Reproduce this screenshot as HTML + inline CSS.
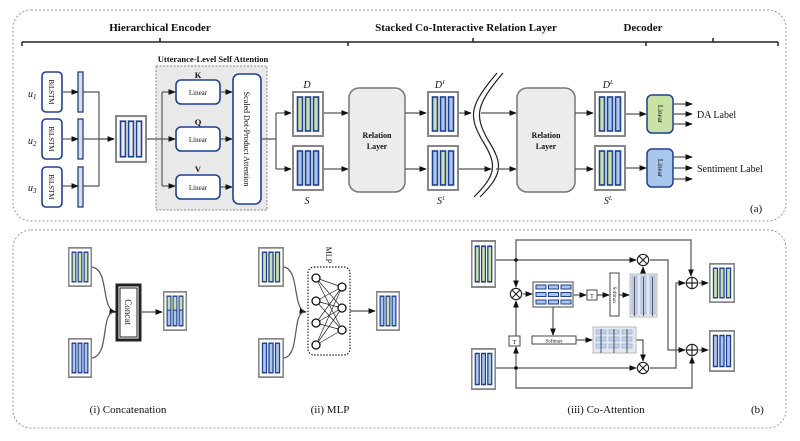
<!DOCTYPE html>
<html><head><meta charset="utf-8"><style>
html,body{margin:0;padding:0;background:#fff}
svg{display:block}
text{font-family:"Liberation Serif",serif;fill:#111}
.b{font-weight:bold}
.ln{stroke:#555;stroke-width:1.2;fill:none}
.bl{fill:#fff;stroke:#1f3f8f;stroke-width:1.6}
</style></head><body>
<svg width="800" height="441" viewBox="0 0 800 441" xmlns="http://www.w3.org/2000/svg">
<defs>
<marker id="a" viewBox="0 0 10 10" refX="9" refY="5" markerWidth="6" markerHeight="6" orient="auto"><path d="M0,1 L10,5 L0,9z" fill="#111"/></marker>
<symbol id="sGGG" viewBox="0 0 32 46" preserveAspectRatio="none"><rect x="1" y="1" width="30" height="44" fill="#fff" stroke="#888" stroke-width="2"/><g stroke="#1f3f8f" stroke-width="1.6"><rect x="5.5" y="6" width="5" height="34" fill="#c9e2a6"/><rect x="13.5" y="6" width="5" height="34" fill="#c9e2a6"/><rect x="21.5" y="6" width="5" height="34" fill="#c9e2a6"/></g></symbol>
<symbol id="sBBB" viewBox="0 0 32 46" preserveAspectRatio="none"><rect x="1" y="1" width="30" height="44" fill="#fff" stroke="#888" stroke-width="2"/><g stroke="#1f3f8f" stroke-width="1.6"><rect x="5.5" y="6" width="5" height="34" fill="#a9c6ec"/><rect x="13.5" y="6" width="5" height="34" fill="#a9c6ec"/><rect x="21.5" y="6" width="5" height="34" fill="#a9c6ec"/></g></symbol>
<symbol id="sGBG" viewBox="0 0 32 46" preserveAspectRatio="none"><rect x="1" y="1" width="30" height="44" fill="#fff" stroke="#888" stroke-width="2"/><g stroke="#1f3f8f" stroke-width="1.6"><rect x="5.5" y="6" width="5" height="34" fill="#c9e2a6"/><rect x="13.5" y="6" width="5" height="34" fill="#a9c6ec"/><rect x="21.5" y="6" width="5" height="34" fill="#a9c6ec"/></g></symbol>
<symbol id="sBGB" viewBox="0 0 32 46" preserveAspectRatio="none"><rect x="1" y="1" width="30" height="44" fill="#fff" stroke="#888" stroke-width="2"/><g stroke="#1f3f8f" stroke-width="1.6"><rect x="5.5" y="6" width="5" height="34" fill="#a9c6ec"/><rect x="13.5" y="6" width="5" height="34" fill="#c9e2a6"/><rect x="21.5" y="6" width="5" height="34" fill="#a9c6ec"/></g></symbol>
<symbol id="sGGB" viewBox="0 0 32 46" preserveAspectRatio="none"><rect x="1" y="1" width="30" height="44" fill="#fff" stroke="#888" stroke-width="2"/><g stroke="#1f3f8f" stroke-width="1.6"><rect x="5.5" y="6" width="5" height="34" fill="#c9e2a6"/><rect x="13.5" y="6" width="5" height="34" fill="#c9e2a6"/><rect x="21.5" y="6" width="5" height="34" fill="#a9c6ec"/></g></symbol>
<symbol id="sWWW" viewBox="0 0 32 46" preserveAspectRatio="none"><rect x="1" y="1" width="30" height="44" fill="#fff" stroke="#888" stroke-width="2"/><g stroke="#1f3f8f" stroke-width="1.6"><rect x="5.5" y="6" width="5" height="34" fill="#e6e9ef"/><rect x="13.5" y="6" width="5" height="34" fill="#e6e9ef"/><rect x="21.5" y="6" width="5" height="34" fill="#e6e9ef"/></g></symbol>
<symbol id="sHALF" viewBox="0 0 32 46" preserveAspectRatio="none"><rect x="1" y="1" width="30" height="44" fill="#fff" stroke="#888" stroke-width="2"/><g stroke="#1f3f8f" stroke-width="1.6"><rect x="5.5" y="6" width="5" height="34" fill="#a9c6ec"/><rect x="13.5" y="6" width="5" height="34" fill="#a9c6ec"/><rect x="21.5" y="6" width="5" height="34" fill="#a9c6ec"/></g><g fill="#c9e2a6"><rect x="6.3" y="6.8" width="3.4" height="15"/><rect x="14.3" y="6.8" width="3.4" height="15"/><rect x="22.3" y="6.8" width="3.4" height="15"/></g><g stroke="#1f3f8f" stroke-width="1.2"><line x1="5.5" y1="22" x2="10.5" y2="22"/><line x1="13.5" y1="22" x2="18.5" y2="22"/><line x1="21.5" y1="22" x2="26.5" y2="22"/></g></symbol>
<symbol id="otimes" viewBox="-8 -8 16 16"><circle r="6.5" fill="#fff" stroke="#222" stroke-width="1.3"/><path d="M-4.6,-4.6L4.6,4.6M4.6,-4.6L-4.6,4.6" stroke="#222" stroke-width="1.3"/></symbol>
<symbol id="oplus" viewBox="-8 -8 16 16"><circle r="6.5" fill="#fff" stroke="#222" stroke-width="1.3"/><path d="M-6.5,0H6.5M0,-6.5V6.5" stroke="#222" stroke-width="1.3"/></symbol>
</defs>

<!-- panels -->
<rect x="13" y="10" width="773" height="211" rx="18" fill="none" stroke="#999" stroke-width="1" stroke-dasharray="2,2"/>
<rect x="13" y="230" width="773" height="198" rx="18" fill="none" stroke="#999" stroke-width="1" stroke-dasharray="2,2"/>

<!-- headers -->
<text x="160" y="31" font-size="11" class="b" text-anchor="middle">Hierarchical Encoder</text>
<text x="466" y="31" font-size="11" class="b" text-anchor="middle">Stacked Co-Interactive Relation Layer</text>
<text x="643" y="31" font-size="11" class="b" text-anchor="middle">Decoder</text>
<path d="M22,42H778M22,42V46M160,42V38M348,42V46M473,42V38M646,42V46M713,42V38M778,42V46" stroke="#222" stroke-width="1.5" fill="none"/>

<!-- BiLSTMs -->
<g>
<rect x="42" y="72" width="20" height="40" rx="4" class="bl"/>
<rect x="42" y="119" width="20" height="40" rx="4" class="bl"/>
<rect x="42" y="167" width="20" height="40" rx="4" class="bl"/>
<text transform="translate(49,92) rotate(90)" font-size="7" text-anchor="middle">BiLSTM</text>
<text transform="translate(49,139) rotate(90)" font-size="7" text-anchor="middle">BiLSTM</text>
<text transform="translate(49,187) rotate(90)" font-size="7" text-anchor="middle">BiLSTM</text>
<text x="28" y="97" font-size="10" font-style="italic">u<tspan font-size="7" dy="2">1</tspan></text>
<text x="28" y="144" font-size="10" font-style="italic">u<tspan font-size="7" dy="2">2</tspan></text>
<text x="28" y="191" font-size="10" font-style="italic">u<tspan font-size="7" dy="2">3</tspan></text>
<rect x="78" y="72" width="5" height="40" fill="#d9dde6" stroke="#1f3f8f" stroke-width="1.3"/>
<rect x="78" y="119" width="5" height="40" fill="#d9dde6" stroke="#1f3f8f" stroke-width="1.3"/>
<rect x="78" y="167" width="5" height="40" fill="#d9dde6" stroke="#1f3f8f" stroke-width="1.3"/>
<path class="ln" d="M62,92H78" marker-end="url(#a)"/>
<path class="ln" d="M62,139H78" marker-end="url(#a)"/>
<path class="ln" d="M62,186H78" marker-end="url(#a)"/>
<path class="ln" d="M83,92H99V186H83M83,139H114" />
<path class="ln" d="M99,139H114" marker-end="url(#a)"/>
</g>
<use href="#sWWW" x="115" y="115" width="32" height="48"/>

<!-- self attention -->
<rect x="156" y="66" width="111" height="144" fill="#e9e9e9" stroke="#888" stroke-width="1" stroke-dasharray="2,1.5"/>
<text x="213" y="62" font-size="8.5" class="b" text-anchor="middle">Utterance-Level  Self Attention</text>
<text x="198" y="78" font-size="8.5" class="b" text-anchor="middle">K</text>
<text x="198" y="125" font-size="8.5" class="b" text-anchor="middle">Q</text>
<text x="198" y="172" font-size="8.5" class="b" text-anchor="middle">V</text>
<rect x="176" y="80" width="44" height="24" rx="5" class="bl"/>
<rect x="176" y="127" width="44" height="24" rx="5" class="bl"/>
<rect x="176" y="175" width="44" height="24" rx="5" class="bl"/>
<text x="198" y="95" font-size="7" text-anchor="middle">Linear</text>
<text x="198" y="142" font-size="7" text-anchor="middle">Linear</text>
<text x="198" y="190" font-size="7" text-anchor="middle">Linear</text>
<rect x="233" y="74" width="28" height="130" rx="6" class="bl"/>
<text transform="translate(244,139) rotate(90)" font-size="8" text-anchor="middle">Scaled Dot-Product Attention</text>
<path class="ln" d="M147,139H162M162,92V186"/>
<path class="ln" d="M162,92H175" marker-end="url(#a)"/>
<path class="ln" d="M162,139H175" marker-end="url(#a)"/>
<path class="ln" d="M162,186H175" marker-end="url(#a)"/>
<path class="ln" d="M220,92H232" marker-end="url(#a)"/>
<path class="ln" d="M220,139H232" marker-end="url(#a)"/>
<path class="ln" d="M220,187H232" marker-end="url(#a)"/>
<path class="ln" d="M261,139H276M276,113V169"/>
<path class="ln" d="M276,113H291" marker-end="url(#a)"/>
<path class="ln" d="M276,169H291" marker-end="url(#a)"/>

<!-- D S -->
<use href="#sGGG" x="292" y="91" width="32" height="46"/>
<use href="#sBBB" x="292" y="145" width="32" height="46"/>
<text x="307" y="88" font-size="10" font-style="italic" text-anchor="middle">D</text>
<text x="307" y="204" font-size="10" font-style="italic" text-anchor="middle">S</text>
<path class="ln" d="M324,113H348" marker-end="url(#a)"/>
<path class="ln" d="M324,169H348" marker-end="url(#a)"/>

<rect x="349" y="88" width="56" height="104" rx="10" fill="#ececec" stroke="#777" stroke-width="1.5"/>
<text x="377" y="138" font-size="8" class="b" text-anchor="middle">Relation</text>
<text x="377" y="149" font-size="8" class="b" text-anchor="middle">Layer</text>
<path class="ln" d="M405,113H426" marker-end="url(#a)"/>
<path class="ln" d="M405,169H426" marker-end="url(#a)"/>
<use href="#sGBG" x="427" y="91" width="32" height="46"/>
<use href="#sBGB" x="427" y="145" width="32" height="46"/>
<text x="440" y="88" font-size="10" font-style="italic" text-anchor="middle">D<tspan font-size="6" dy="-4">1</tspan></text>
<text x="441" y="204" font-size="10" font-style="italic" text-anchor="middle">S<tspan font-size="6" dy="-4">1</tspan></text>
<path class="ln" d="M459,113H471" marker-end="url(#a)"/>
<path class="ln" d="M459,169H491" marker-end="url(#a)"/>
<path d="M497,73 C470,105 468,115 482,140 C498,165 496,175 474,197" fill="none" stroke="#222" stroke-width="1.2"/>
<path d="M503,73 C476,105 474,115 488,140 C504,165 502,175 480,197" fill="none" stroke="#222" stroke-width="1.2"/>
<path class="ln" d="M481,113H516" marker-end="url(#a)"/>
<path class="ln" d="M496,169H516" marker-end="url(#a)"/>
<rect x="517" y="88" width="58" height="104" rx="10" fill="#ececec" stroke="#777" stroke-width="1.5"/>
<text x="546" y="138" font-size="8" class="b" text-anchor="middle">Relation</text>
<text x="546" y="149" font-size="8" class="b" text-anchor="middle">Layer</text>
<path class="ln" d="M575,113H593" marker-end="url(#a)"/>
<path class="ln" d="M575,169H593" marker-end="url(#a)"/>
<use href="#sGBG" x="594" y="91" width="32" height="46"/>
<use href="#sGGB" x="594" y="145" width="32" height="46"/>
<text x="608" y="88" font-size="10" font-style="italic" text-anchor="middle">D<tspan font-size="6" dy="-4">L</tspan></text>
<text x="608" y="204" font-size="10" font-style="italic" text-anchor="middle">S<tspan font-size="6" dy="-4">L</tspan></text>
<path class="ln" d="M626,114H646" marker-end="url(#a)"/>
<path class="ln" d="M626,168H646" marker-end="url(#a)"/>
<rect x="647" y="95" width="26" height="38" rx="5" fill="#c9e2a6" stroke="#1f3f8f" stroke-width="1.5"/>
<rect x="647" y="149" width="26" height="38" rx="5" fill="#a9c6ec" stroke="#1f3f8f" stroke-width="1.5"/>
<text transform="translate(658,114) rotate(90)" font-size="7" text-anchor="middle">Linear</text>
<text transform="translate(658,168) rotate(90)" font-size="7" text-anchor="middle">Linear</text>
<g class="ln">
<path d="M673,104H692" marker-end="url(#a)"/><path d="M673,114H692" marker-end="url(#a)"/><path d="M673,124H692" marker-end="url(#a)"/>
<path d="M673,157H692" marker-end="url(#a)"/><path d="M673,168H692" marker-end="url(#a)"/><path d="M673,179H692" marker-end="url(#a)"/>
</g>
<text x="697" y="118" font-size="10">DA Label</text>
<text x="697" y="172" font-size="10">Sentiment Label</text>
<text x="750" y="212" font-size="11">(a)</text>

<!-- (i) concat -->
<use href="#sGGG" x="68" y="247" width="24" height="40"/>
<use href="#sBBB" x="68" y="338" width="24" height="40"/>
<path class="ln" d="M92,267C110,270 100,310 116,312" marker-end="url(#a)"/>
<path d="M92,358C110,355 100,314 114,312" class="ln"/>
<rect x="117" y="285" width="23" height="55" fill="#fff" stroke="#222" stroke-width="3"/>
<rect x="120" y="288" width="17" height="49" fill="#fff" stroke="#222" stroke-width="1"/>
<text transform="translate(125,312) rotate(90)" font-size="9" text-anchor="middle">Concat</text>
<path class="ln" d="M140,312H162" marker-end="url(#a)"/>
<use href="#sHALF" x="163" y="291" width="24" height="40"/>
<text x="128" y="413" font-size="11" text-anchor="middle">(i) Concatenation</text>

<!-- (ii) MLP -->
<use href="#sGGG" x="258" y="247" width="26" height="40"/>
<use href="#sBBB" x="258" y="338" width="26" height="40"/>
<path class="ln" d="M284,267C300,270 292,310 306,312" marker-end="url(#a)"/>
<path class="ln" d="M284,358C300,355 292,314 304,312"/>
<rect x="308" y="267" width="42" height="88" rx="6" fill="none" stroke="#222" stroke-width="1.2" stroke-dasharray="1.5,1.5"/>
<text transform="translate(326,255) rotate(90)" font-size="8" text-anchor="middle">MLP</text>
<g stroke="#222" stroke-width="0.7">
<path d="M316,278L342,287M316,278L342,308M316,278L342,330M316,301L342,287M316,301L342,308M316,301L342,330M316,323L342,287M316,323L342,308M316,323L342,330M316,345L342,287M316,345L342,308M316,345L342,330"/>
</g>
<g fill="#fff" stroke="#111" stroke-width="1.3">
<circle cx="316" cy="278" r="4"/><circle cx="316" cy="301" r="4"/><circle cx="316" cy="323" r="4"/><circle cx="316" cy="345" r="4"/>
<circle cx="342" cy="287" r="4"/><circle cx="342" cy="308" r="4"/><circle cx="342" cy="330" r="4"/>
</g>
<path class="ln" d="M350,311H375" marker-end="url(#a)"/>
<use href="#sBGB" x="376" y="291" width="24" height="40"/>
<text x="330" y="413" font-size="11" text-anchor="middle">(ii) MLP</text>

<!-- (iii) co-attention -->
<use href="#sGGG" x="471" y="240" width="25" height="48"/>
<use href="#sBBB" x="471" y="348" width="25" height="42"/>
<use href="#sGGG" x="709" y="263" width="26" height="40"/>
<use href="#sBBB" x="709" y="330" width="26" height="42"/>
<g class="ln" stroke-width="1">
<path d="M496,260H636" marker-end="url(#a)"/>
<path d="M516,260V240H691V276" marker-end="url(#a)"/>
<path d="M516,260V287" marker-end="url(#a)"/>
<path d="M650,260H668V350H685" marker-end="url(#a)"/>
<path d="M699,283H708" marker-end="url(#a)"/>
<path d="M699,350H708" marker-end="url(#a)"/>
<path d="M523,294H532" marker-end="url(#a)"/>
<path d="M573,295H586" marker-end="url(#a)"/>
<path d="M597,295H609" marker-end="url(#a)"/>
<path d="M619,295H629" marker-end="url(#a)"/>
<path d="M643,274V267" marker-end="url(#a)"/>
<path d="M553,307V335" marker-end="url(#a)"/>
<path d="M576,340H592" marker-end="url(#a)"/>
<path d="M636,340H643V361" marker-end="url(#a)"/>
<path d="M496,368H636" marker-end="url(#a)"/>
<path d="M650,368H676V283H685" marker-end="url(#a)"/>
<path d="M516,368V388H692V357" marker-end="url(#a)"/>
<path d="M516,368V347" marker-end="url(#a)"/>
<path d="M516,336V301" marker-end="url(#a)"/>
</g>
<circle cx="516" cy="260" r="1.8" fill="#111"/>
<circle cx="516" cy="368" r="1.8" fill="#111"/>
<use href="#otimes" x="509" y="287" width="14" height="14"/>
<use href="#otimes" x="636" y="253" width="14" height="14"/>
<use href="#otimes" x="636" y="361" width="14" height="14"/>
<use href="#oplus" x="685" y="276" width="14" height="14"/>
<use href="#oplus" x="685" y="343" width="14" height="14"/>
<rect x="533" y="282" width="40" height="25" fill="#fff" stroke="#666" stroke-width="1.2"/>
<g fill="#a9c6ec" stroke="#1f3f8f" stroke-width="1">
<rect x="536" y="285" width="10" height="4"/><rect x="548.5" y="285" width="10" height="4"/><rect x="561" y="285" width="10" height="4"/>
<rect x="536" y="292.5" width="10" height="4"/><rect x="548.5" y="292.5" width="10" height="4"/><rect x="561" y="292.5" width="10" height="4"/>
<rect x="536" y="300" width="10" height="4"/><rect x="548.5" y="300" width="10" height="4"/><rect x="561" y="300" width="10" height="4"/>
</g>
<rect x="587" y="290" width="10" height="10" fill="#fff" stroke="#444" stroke-width="1"/>
<text x="592" y="298" font-size="6" text-anchor="middle">T</text>
<rect x="509" y="336" width="11" height="10" fill="#fff" stroke="#444" stroke-width="1"/>
<text x="514.5" y="344" font-size="6" text-anchor="middle">T</text>
<rect x="610" y="273" width="9" height="43" fill="#fff" stroke="#444" stroke-width="1"/>
<text transform="translate(613,295) rotate(90)" font-size="5" text-anchor="middle">Softmax</text>
<rect x="532" y="336" width="44" height="8" fill="#fff" stroke="#444" stroke-width="1"/>
<text x="554" y="342.5" font-size="5" text-anchor="middle">Softmax</text>
<rect x="630" y="274" width="27" height="43" fill="#e4e8f0" stroke="#bbb" stroke-width="1"/>
<g fill="#c3d3ec" stroke="#9fb2d4" stroke-width="0.8">
<rect x="632" y="276" width="5" height="38"/><rect x="641" y="276" width="5" height="38"/><rect x="650" y="276" width="5" height="38"/>
</g>
<g stroke="#333" stroke-width="0.8"><path d="M634.5,277V316M643.5,277V316M652.5,277V316"/></g>
<rect x="593" y="327" width="43" height="26" fill="#e4e8f0" stroke="#bbb" stroke-width="1"/>
<g fill="#c3d3ec" stroke="#9fb2d4" stroke-width="0.8">
<rect x="596" y="330" width="10" height="4"/><rect x="609" y="330" width="10" height="4"/><rect x="622" y="330" width="10" height="4"/>
<rect x="596" y="337" width="10" height="4"/><rect x="609" y="337" width="10" height="4"/><rect x="622" y="337" width="10" height="4"/>
<rect x="596" y="344" width="10" height="4"/><rect x="609" y="344" width="10" height="4"/><rect x="622" y="344" width="10" height="4"/>
</g>
<g stroke="#333" stroke-width="0.8"><path d="M601,329V353M614,329V353M627,329V353"/></g>
<text x="606" y="413" font-size="11" text-anchor="middle">(iii) Co-Attention</text>
<text x="751" y="413" font-size="11">(b)</text>
</svg>
</body></html>
